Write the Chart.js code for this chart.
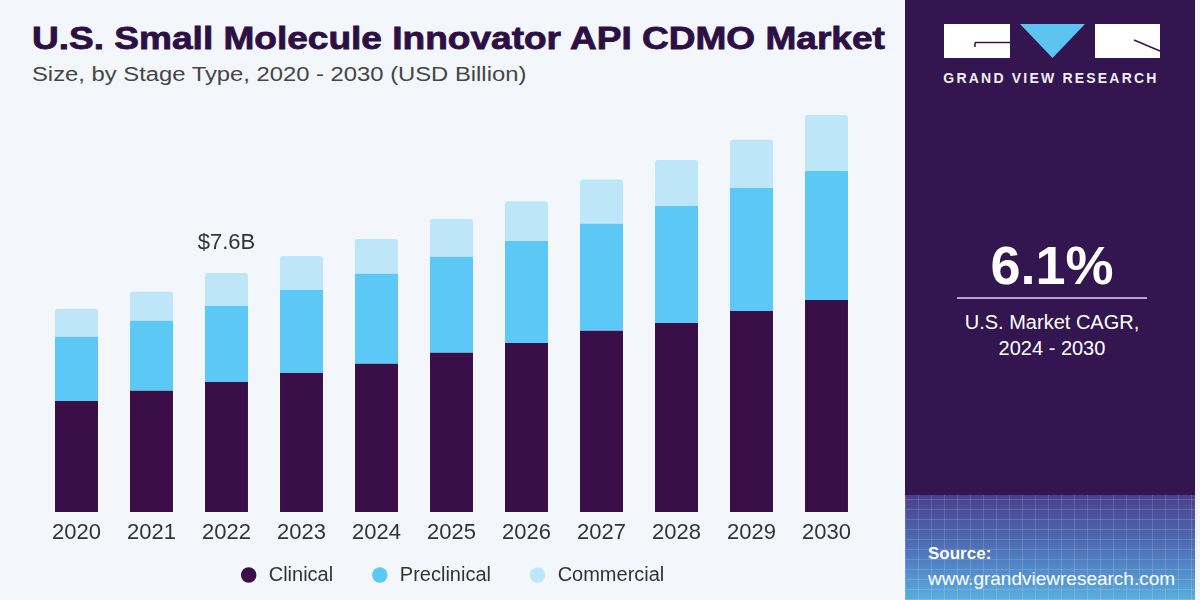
<!DOCTYPE html>
<html lang="en">
<head>
<meta charset="UTF-8">
<title>U.S. Small Molecule Innovator API CDMO Market</title>
<script src="https://cdn.jsdelivr.net/npm/chart.js"></script>
<style>
  body {
    margin: 0;
    width: 1200px;
    height: 600px;
    overflow: hidden;
    position: relative;
    background: #f3f7fb;
    font-family: 'Liberation Sans', Arial, sans-serif;
  }
  .title {
    position: absolute;
    left: 32px;
    top: 21px;
    font-size: 31px;
    font-weight: bold;
    color: #2d0f45;
    white-space: nowrap;
    -webkit-text-stroke: 0.8px #2d0f45;
    transform: scaleX(1.195);
    transform-origin: left center;
  }
  .subtitle {
    position: absolute;
    left: 32px;
    top: 63px;
    font-size: 20px;
    color: #454545;
    white-space: nowrap;
    transform: scaleX(1.19);
    transform-origin: left center;
  }
  .chart-box {
    position: absolute;
    left: 0;
    top: 95px;
    width: 905px;
    height: 505px;
  }
  .panel {
    position: absolute;
    left: 905px;
    top: 0;
    width: 290px;
    height: 600px;
    background: #33154f;
    overflow: hidden;
    color: #fff;
  }
  .logo { position: absolute; left: 39px; top: 24px; }
  .brand {
    position: absolute;
    left: 0; width: 292px; top: 70px;
    text-align: center;
    font-size: 14px;
    font-weight: bold;
    letter-spacing: 2.2px;
    color: #f2eef6;
  }
  .cagr {
    position: absolute;
    left: 0; width: 294px; top: 234px;
    text-align: center;
    font-size: 54px;
    font-weight: bold;
  }
  .rule {
    position: absolute;
    left: 52px; width: 190px; top: 297px;
    height: 2px;
    background: #b9a0d2;
  }
  .cagr-text {
    position: absolute;
    left: 0; width: 294px; top: 309px;
    text-align: center;
    font-size: 20px;
    line-height: 26px;
  }
  .grid {
    position: absolute;
    left: 0; top: 495px; width: 290px; height: 105px;
    background:
      repeating-linear-gradient(90deg, rgba(255,255,255,0.14) 0 1px, transparent 1px 13px),
      repeating-linear-gradient(0deg, rgba(255,255,255,0.14) 0 1px, transparent 1px 10px),
      linear-gradient(180deg, #4a3f8e 0%, #4f76bb 55%, #5aaee0 100%);
  }
  .source {
    position: absolute;
    left: 23px; top: 540px;
    font-size: 19px;
    line-height: 25px;
  }
  .source b { font-size: 17px; }
</style>
</head>
<body>
  <div class="title">U.S. Small Molecule Innovator API CDMO Market</div>
  <div class="subtitle">Size, by Stage Type, 2020 - 2030 (USD Billion)</div>
  <div class="chart-box"><canvas id="chart"></canvas></div>

  <div class="panel">
    <svg class="logo" width="220" height="36" viewBox="0 0 220 36">
      <rect x="0" y="0" width="66" height="34" fill="#fff"/>
      <path d="M31 18.5 H66 M31 18.5 V23" stroke="#33154f" stroke-width="1.5" fill="none"/>
      <polygon points="76,0 141,0 108.5,34" fill="#5bc4f0"/>
      <rect x="151" y="0" width="65" height="34" fill="#fff"/>
      <path d="M190 16 L216 27" stroke="#33154f" stroke-width="1.5" fill="none"/>
    </svg>
    <div class="brand">GRAND VIEW RESEARCH</div>
    <div class="cagr">6.1%</div>
    <div class="rule"></div>
    <div class="cagr-text">U.S. Market CAGR,<br>2024 - 2030</div>
    <div class="grid"></div>
    <div class="source"><b>Source:</b><br>www.grandviewresearch.com</div>
  </div>

  <script>
    const years = ['2020', '2021', '2022', '2023', '2024', '2025', '2026', '2027', '2028', '2029', '2030'];
    const clinical = [3.53, 3.85, 4.13, 4.42, 4.71, 5.06, 5.37, 5.76, 6.01, 6.39, 6.74];
    const preclinical = [2.04, 2.23, 2.42, 2.64, 2.86, 3.05, 3.24, 3.40, 3.72, 3.91, 4.10];
    const commercial = [0.89, 0.92, 1.05, 1.08, 1.11, 1.21, 1.27, 1.41, 1.46, 1.53, 1.78];
    const calloutIndex = 2;
    const calloutText = '$7.6B';

    const fontFamily = '"Liberation Sans", Arial, sans-serif';

    // label above the 2022 bar
    const calloutPlugin = {
      id: 'callout',
      afterDatasetsDraw(chart) {
        const bar = chart.getDatasetMeta(2).data[calloutIndex];
        const ctx = chart.ctx;
        ctx.save();
        ctx.font = '22px ' + fontFamily;
        ctx.fillStyle = '#333';
        ctx.textAlign = 'center';
        ctx.textBaseline = 'middle';
        ctx.fillText(calloutText, bar.x, bar.y - 30);
        ctx.restore();
      }
    };

    new Chart(document.getElementById('chart'), {
      type: 'bar',
      data: {
        labels: years,
        datasets: [
          { label: 'Clinical', data: clinical, backgroundColor: '#3a0f47', borderRadius: 0 },
          { label: 'Preclinical', data: preclinical, backgroundColor: '#5bc8f5', borderRadius: 0 },
          { label: 'Commercial', data: commercial, backgroundColor: '#bde7f8',
            borderRadius: { topLeft: 3, topRight: 3, bottomLeft: 0, bottomRight: 0 }, borderSkipped: false }
        ]
      },
      options: {
        responsive: true,
        maintainAspectRatio: false,
        animation: false,
        datasets: { bar: { categoryPercentage: 1, barPercentage: 0.573 } },
        layout: { padding: { left: 39, right: 41, top: 8, bottom: 5 } },
        scales: {
          x: {
            stacked: true,
            grid: { display: false, drawTicks: false },
            border: { display: false },
            ticks: { color: '#333', padding: 8, font: { family: fontFamily, size: 22 } },
            afterFit(scale) { scale.height = 33; }
          },
          y: { stacked: true, display: false, min: 0, max: 13 }
        },
        plugins: {
          legend: {
            position: 'bottom',
            labels: {
              usePointStyle: true,
              pointStyle: 'circle',
              boxWidth: 20,
              boxHeight: 11,
              padding: 20,
              color: '#333',
              font: { family: fontFamily, size: 20 },
              // extra gap after each item except the last
              generateLabels(chart) {
                const items = Chart.defaults.plugins.legend.labels.generateLabels(chart);
                items.forEach((item, i) => {
                  if (i < items.length - 1) item.text += '   ';
                });
                return items;
              }
            }
          },
          tooltip: { enabled: false }
        }
      },
      plugins: [calloutPlugin]
    });
  </script>
</body>
</html>
